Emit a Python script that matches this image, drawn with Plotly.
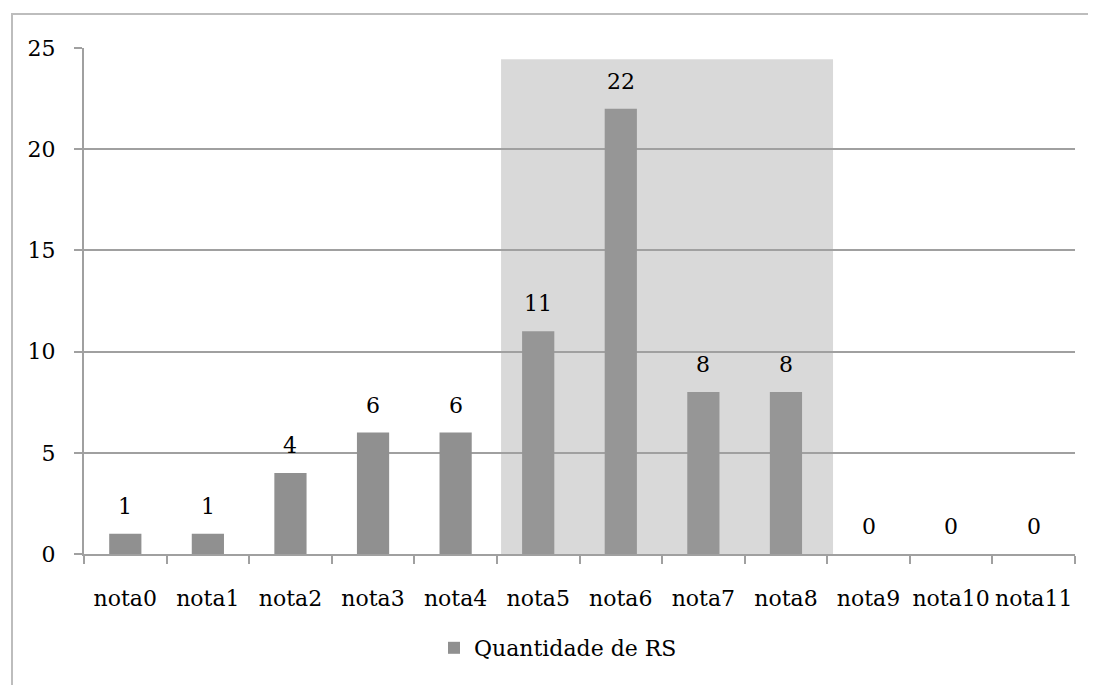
import plotly.graph_objects as go

categories = ["nota0", "nota1", "nota2", "nota3", "nota4", "nota5", "nota6",
              "nota7", "nota8", "nota9", "nota10", "nota11"]
values = [1, 1, 4, 6, 6, 11, 22, 8, 8, 0, 0, 0]
y_ticks = [0, 5, 10, 15, 20, 25]
series_name = "Quantidade de RS"

FONT = "DejaVu Serif"
FS = 22
# page is rendered with an 8px body offset
OFF = 8
W, H = 1096 - OFF, 685 - OFF
# desired plot area in page pixels
PX0, PX1, PY0, PY1 = 84, 1075, 48, 554
L, T = PX0 - OFF, PY0 - OFF
R, B = W - (PX1 - OFF), H - (PY1 - OFF)
pw, ph = PX1 - PX0, PY1 - PY0


def paper_x(px):
    return (px - PX0) / pw


def paper_y(py):
    return (PY1 - py) / ph


fig = go.Figure()
fig.add_trace(go.Bar(
    x=categories, y=values, name=series_name,
    marker=dict(color="#909090", line=dict(width=0)),
    width=0.39,
    showlegend=True,
))

for c, v in zip(categories, values):
    fig.add_annotation(x=c, y=v, text=str(v), showarrow=False,
                       yanchor="bottom", yshift=13,
                       font=dict(family=FONT, size=FS, color="#000000"))

# shaded highlight region (semi-transparent overlay)
fig.add_shape(type="rect", xref="x", yref="y",
              x0=4.55, x1=8.57, y0=-0.4, y1=24.45,
              fillcolor="rgba(160,160,160,0.4)", line=dict(width=0),
              layer="above")

# outer frame (only left & top visible in reference)
fig.add_shape(type="rect", xref="paper", yref="paper",
              x0=paper_x(12), x1=1.2, y0=paper_y(14), y1=-0.6,
              line=dict(color="#bdbdbd", width=2), fillcolor="rgba(0,0,0,0)",
              layer="above")

fig.update_layout(
    width=W, height=H,
    margin=dict(l=L, r=R, t=T, b=B, autoexpand=False),
    paper_bgcolor="white", plot_bgcolor="white",
    font=dict(family=FONT, size=FS, color="#000000"),
    legend=dict(orientation="h", x=paper_x(434), xanchor="left",
                y=paper_y(648), yanchor="middle",
                font=dict(family=FONT, size=FS, color="#000000"),
                itemwidth=30),
    xaxis=dict(
        type="category", range=[-0.5, 11.5], automargin=False,
        showline=True, linecolor="#a0a0a0", linewidth=2,
        ticks="outside", tickson="boundaries", ticklen=8,
        tickcolor="#a0a0a0", tickwidth=2, tickangle=0,
        showgrid=False, tickfont=dict(family=FONT, size=FS),
        ticklabelstandoff=24,
    ),
    yaxis=dict(
        range=[0, 25], tickvals=y_ticks, automargin=False,
        showline=True, linecolor="#a0a0a0", linewidth=2,
        ticks="outside", ticklen=8, tickcolor="#a0a0a0", tickwidth=2,
        showgrid=True, gridcolor="#a0a0a0", gridwidth=1.5,
        zeroline=False, tickfont=dict(family=FONT, size=FS),
        ticklabelstandoff=14,
    ),
)

fig.write_html("out.html")
